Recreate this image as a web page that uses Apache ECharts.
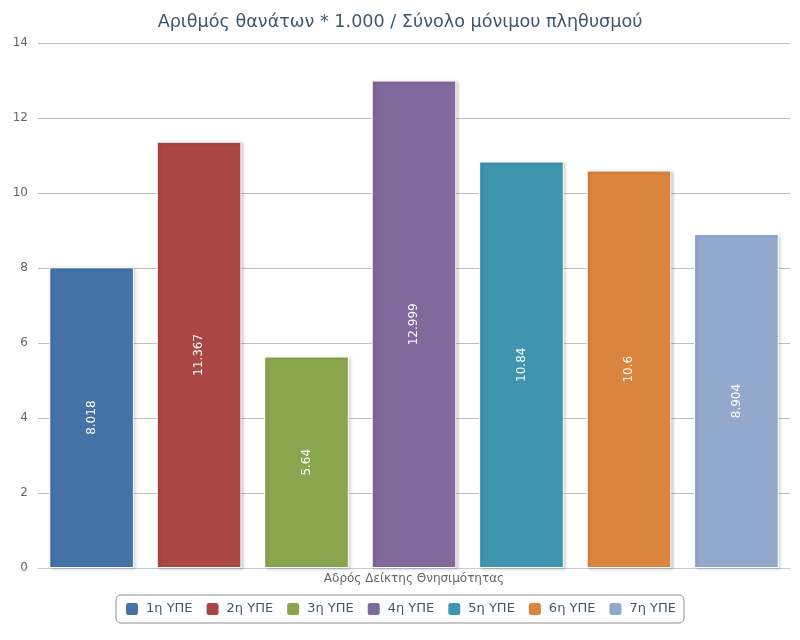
<!DOCTYPE html>
<html><head><meta charset="utf-8">
<script src="https://cdn.jsdelivr.net/npm/echarts@6/dist/echarts.min.js"></script>
<style>html,body{margin:0;padding:0;background:#fff}#c{width:800px;height:640px}</style>
</head><body><div id="c"></div>
<script>
const categories = ['Αδρός Δείκτης Θνησιμότητας'];
const seriesNames = ['1η ΥΠΕ','2η ΥΠΕ','3η ΥΠΕ','4η ΥΠΕ','5η ΥΠΕ','6η ΥΠΕ','7η ΥΠΕ'];
const seriesValues = [8.018, 11.367, 5.64, 12.999, 10.84, 10.6, 8.904];
const colors = ['#4572A7','#AA4643','#89A54E','#80699B','#3D96AE','#DB843D','#92A8CD'];
const yTicks = [0,2,4,6,8,10,12,14];
const FONT = 'DejaVu Sans, sans-serif';

const chart = echarts.init(document.getElementById('c'), null, {renderer:'canvas'});
chart.setOption({
  animation:false,
  color: colors,
  textStyle:{fontFamily:FONT},
  title:{text:'Αριθμός θανάτων * 1.000 / Σύνολο μόνιμου πληθυσμού', left:'center', top:8,
    textStyle:{color:'#3E576F', fontSize:17.6, fontWeight:'normal', fontFamily:FONT}},
  legend:{bottom:17, left:'center', itemWidth:14, itemHeight:14, itemGap:12,
    borderColor:'#909090', borderWidth:1, borderRadius:5, padding:[6,8],
    icon:'roundRect',
    textStyle:{color:'#3E576F', fontSize:13, fontFamily:FONT, padding:[0,0,0,2]},
    data:seriesNames},
  grid:{left:38, right:10, top:43, bottom:72, containLabel:false},
  xAxis:{type:'category', data:categories,
    axisLine:{lineStyle:{color:'#C0D0E0'}}, axisTick:{show:false},
    axisLabel:{color:'#666', fontSize:12, margin:5, fontFamily:FONT}},
  yAxis:{type:'value', min:yTicks[0], max:yTicks[yTicks.length-1], interval:2,
    axisLine:{show:false}, axisTick:{show:false},
    splitLine:{lineStyle:{color:'#C0C0C0'}},
    axisLabel:{color:'#666', fontSize:12, margin:10, fontFamily:FONT}},
  series: seriesNames.map((n,i)=>({
    name:n, type:'bar', data:[seriesValues[i]],
    barGap:'27%', barCategoryGap:'3%',
    itemStyle:{color:colors[i], borderColor:'#fff', borderWidth:1,
      shadowColor:'rgba(0,0,0,0.18)', shadowBlur:3, shadowOffsetX:2, shadowOffsetY:1},
    label:{show:true, position:'inside', rotate:90, color:'#fff', fontSize:12, fontFamily:FONT,
      formatter:p=>String(p.value)}
  }))
});
</script></body></html>
